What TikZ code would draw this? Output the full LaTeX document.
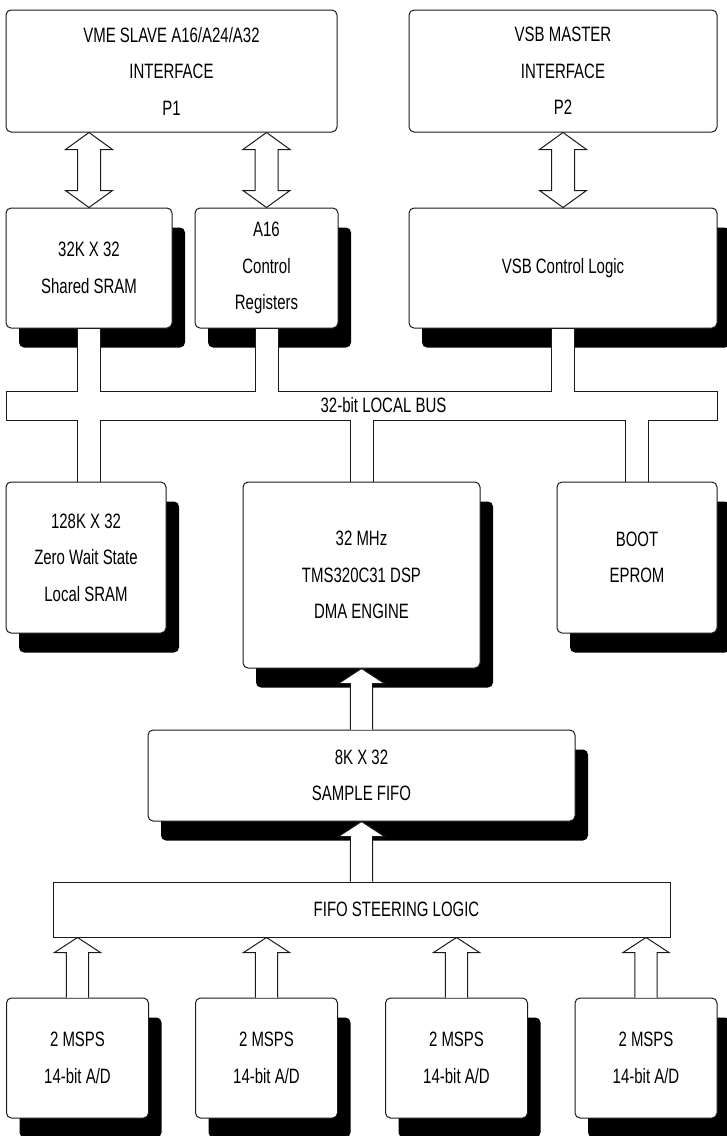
\documentclass[tikz,border=0pt]{standalone}
\usepackage{fontspec}
\setmainfont{Liberation Sans}[FakeStretch=0.72]
\usetikzlibrary{calc,shadows}
\definecolor{BdInk}{HTML}{1A1A1A}
\newcommand{\dblarrow}[2]{%
  \draw[barrow] let \p1=(#1), \p2=(#2) in
    (\x1,\y1) -- (\x1+11.75pt,\y1-8.5pt) -- (\x1+5.75pt,\y1-8.5pt)
    -- (\x1+5.75pt,\y2+8.5pt) -- (\x1+11.75pt,\y2+8.5pt) -- (\x1,\y2)
    -- (\x1-11.75pt,\y2+8.5pt) -- (\x1-5.75pt,\y2+8.5pt)
    -- (\x1-5.75pt,\y1-8.5pt) -- (\x1-11.75pt,\y1-8.5pt) -- cycle;}
\newcommand{\uparr}[2]{%
  \draw[barrow] let \p1=(#1), \p2=(#2) in
    (\x2-5.6pt,\y1) -- (\x2-5.6pt,\y2-7.5pt) -- (\x2-11.5pt,\y2-7.5pt) -- (\x2,\y2)
    -- (\x2+11.5pt,\y2-7.5pt) -- (\x2+5.6pt,\y2-7.5pt) -- (\x2+5.6pt,\y1);}
\newcommand{\busstub}[2]{%
  \fill[white] let \p1=(#1), \p2=(#2), \p3=(bus.center),
      \n1={(\y3-\y1)/abs(\y3-\y1)} in
    ({\x1-5.5pt},{\y1+\n1*0.4pt}) rectangle ({\x1+5.5pt},\y3);
  \draw[wire] let \p1=(#1), \p2=(#2) in
    (\x1-5.75pt,\y1) -- (\x1-5.75pt,\y2) (\x1+5.75pt,\y1) -- (\x1+5.75pt,\y2);}

\begin{document}
\begin{tikzpicture}[x=0.5pt,y=-0.5pt,
    blk/.style={draw=BdInk,fill=white,line width=0.5pt,rounded corners=2.5pt,inner sep=0pt,align=center,font=\fontsize{10.4}{18.25}\selectfont},
    shd/.style={blk,drop shadow={shadow xshift=6.5pt,shadow yshift=-9.75pt,fill=black,opacity=1}},
    bar/.style={draw=BdInk,fill=white,line width=0.5pt,minimum height=14.5pt,inner sep=0pt},
    lbl/.style={font=\fontsize{10.4}{18.25}\selectfont,inner sep=0pt},
    wire/.style={draw=BdInk,line width=0.5pt},
    barrow/.style={draw=BdInk,fill=white,line width=0.5pt,line join=miter}
  ]
    \useasboundingbox (0,0) rectangle (727,1136);

    \node[blk,minimum width=165.5pt,minimum height=61pt] (vme) at (171.5,71) {VME SLAVE A16/A24/A32\\INTERFACE\\P1};
    \node[blk,minimum width=154pt,minimum height=61pt] (vsbm) at (563,71) {VSB MASTER\\INTERFACE\\P2};

    \node[shd,minimum width=83pt,minimum height=60pt] (shsram) at (89,268) {32K X 32\\Shared SRAM};
    \node[shd,minimum width=71.5pt,minimum height=60pt] (ctrlreg) at (266.5,268) {A16\\Control\\Registers};
    \node[shd,minimum width=154pt,minimum height=60pt] (vsbctl) at (563,268) {VSB Control Logic};

    \node[bar,minimum width=355.5pt] (bus) at (361.5,405.5) {};

    \node[shd,minimum width=80pt,minimum height=75.5pt] (lsram) at (86,557.5) {128K X 32\\Zero Wait State\\Local SRAM};
    \node[shd,minimum width=118.5pt,minimum height=93pt] (dsp) at (361.5,575) {32 MHz\\TMS320C31 DSP\\DMA ENGINE};
    \node[shd,minimum width=80pt,minimum height=75.5pt] (boot) at (637,557.5) {BOOT\\EPROM};

    \node[shd,minimum width=213.5pt,minimum height=45.5pt] (fifo) at (361.5,775.5) {8K X 32\\SAMPLE FIFO};
    \node[bar,minimum width=308.5pt,minimum height=27.5pt] (steer) at (361.5,909.5) {};

    \foreach \i/\cx in {1/77.5,2/266.5,3/456.5,4/646}
      \node[shd,minimum width=71pt,minimum height=60pt] (ad\i) at (\cx,1058) {2 MSPS\\14-bit A/D};

    % local bus taps
    \busstub{shsram.south}{shsram.south |- bus.north}
    \busstub{ctrlreg.south}{ctrlreg.south |- bus.north}
    \busstub{vsbctl.south}{vsbctl.south |- bus.north}
    \busstub{shsram.south |- lsram.north}{shsram.south |- bus.south}
    \busstub{dsp.north}{dsp.north |- bus.south}
    \busstub{boot.north}{boot.north |- bus.south}

    \dblarrow{shsram.north |- vme.south}{shsram.north}
    \dblarrow{ctrlreg.north |- vme.south}{ctrlreg.north}
    \dblarrow{vsbctl.north |- vsbm.south}{vsbctl.north}

    \uparr{fifo.north}{dsp.south}
    \uparr{steer.north}{fifo.south}
    \foreach \i in {1,...,4}
      \uparr{ad\i.north}{ad\i.north |- steer.south};

    \node[lbl] (buslbl) at (383.5,405.5) {32-bit LOCAL BUS};
    \node[lbl] (steerlbl) at (396.5,909.5) {FIFO STEERING LOGIC};
  \end{tikzpicture}
\end{document}
